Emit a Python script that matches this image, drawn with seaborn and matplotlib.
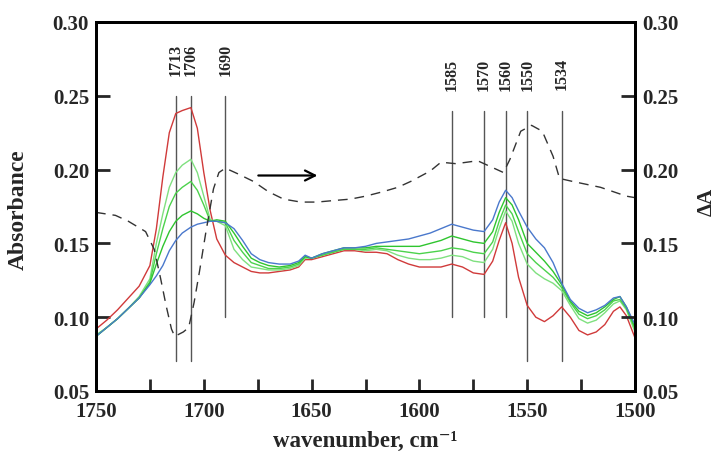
import matplotlib
matplotlib.use("Agg")
import matplotlib.pyplot as plt
import seaborn as sns
import pandas as pd

wavenumber = [1750, 1745, 1740, 1735, 1730, 1725, 1722, 1719, 1716, 1713, 1710, 1706,
              1703, 1700, 1697, 1694, 1690, 1686, 1682, 1678, 1674, 1670, 1665, 1660,
              1656, 1653, 1650, 1645, 1640, 1635, 1630, 1625, 1620, 1615, 1610, 1605,
              1600, 1595, 1590, 1585, 1580, 1575, 1570, 1566, 1563, 1560, 1557, 1554,
              1550, 1546, 1542, 1538, 1534, 1530, 1526, 1522, 1518, 1514, 1510, 1507,
              1504, 1500]

red = [0.092, 0.098, 0.105, 0.113, 0.121, 0.135, 0.160, 0.195, 0.225, 0.238, 0.240, 0.242,
       0.228, 0.198, 0.172, 0.153, 0.142, 0.137, 0.134, 0.131, 0.130, 0.130, 0.131, 0.132,
       0.134, 0.139, 0.139, 0.141, 0.143, 0.145, 0.145, 0.144, 0.144, 0.143, 0.139, 0.136,
       0.134, 0.134, 0.134, 0.136, 0.134, 0.130, 0.129, 0.138, 0.152, 0.164, 0.150, 0.127,
       0.108, 0.100, 0.097, 0.101, 0.107, 0.100, 0.091, 0.088, 0.090, 0.095, 0.104, 0.107,
       0.101, 0.086]

green1 = [0.088, 0.093, 0.099, 0.106, 0.114, 0.126, 0.150, 0.170, 0.188, 0.198, 0.203, 0.207,
          0.198, 0.182, 0.166, 0.165, 0.162, 0.146, 0.139, 0.134, 0.133, 0.132, 0.132, 0.133,
          0.135, 0.140, 0.140, 0.142, 0.144, 0.146, 0.146, 0.145, 0.146, 0.145, 0.142, 0.140,
          0.139, 0.139, 0.140, 0.142, 0.141, 0.138, 0.137, 0.146, 0.160, 0.172, 0.165, 0.150,
          0.136, 0.130, 0.126, 0.123, 0.118, 0.108, 0.099, 0.096, 0.098, 0.103, 0.109, 0.111,
          0.105, 0.090]

green2 = [0.087, 0.093, 0.099, 0.106, 0.113, 0.124, 0.143, 0.160, 0.175, 0.184, 0.188, 0.192,
          0.186, 0.176, 0.165, 0.165, 0.164, 0.152, 0.144, 0.137, 0.135, 0.133, 0.133, 0.134,
          0.136, 0.141, 0.140, 0.142, 0.144, 0.146, 0.146, 0.146, 0.147, 0.146, 0.145, 0.144,
          0.143, 0.144, 0.145, 0.147, 0.146, 0.144, 0.143, 0.151, 0.165, 0.176, 0.170, 0.158,
          0.143, 0.137, 0.132, 0.127, 0.120, 0.110, 0.102, 0.099, 0.101, 0.105, 0.111, 0.112,
          0.106, 0.092]

green3 = [0.087, 0.093, 0.099, 0.106, 0.113, 0.123, 0.136, 0.148, 0.158, 0.165, 0.169, 0.172,
          0.170, 0.167, 0.165, 0.166, 0.165, 0.157, 0.148, 0.140, 0.137, 0.135, 0.134, 0.135,
          0.137, 0.141, 0.140, 0.143, 0.145, 0.147, 0.147, 0.147, 0.148, 0.148, 0.148, 0.148,
          0.148, 0.150, 0.152, 0.155, 0.153, 0.151, 0.150, 0.158, 0.171, 0.181, 0.176, 0.166,
          0.150, 0.144, 0.138, 0.131, 0.122, 0.111, 0.104, 0.101, 0.103, 0.107, 0.112, 0.114,
          0.107, 0.093]

blue = [0.087, 0.093, 0.099, 0.106, 0.113, 0.122, 0.128, 0.135, 0.145, 0.152, 0.157, 0.161,
        0.163, 0.164, 0.165, 0.165, 0.164, 0.160, 0.152, 0.143, 0.139, 0.137, 0.136, 0.136,
        0.138, 0.142, 0.140, 0.143, 0.145, 0.147, 0.147, 0.148, 0.150, 0.151, 0.152, 0.153,
        0.155, 0.157, 0.160, 0.163, 0.161, 0.159, 0.158, 0.166, 0.178, 0.186, 0.181, 0.172,
        0.161, 0.153, 0.147, 0.137, 0.123, 0.112, 0.106, 0.103, 0.105, 0.108, 0.113, 0.114,
        0.107, 0.095]

diff_x = [1750, 1741, 1735, 1727, 1723, 1720, 1717.5, 1715, 1713.5, 1709.5, 1707, 1704.5,
          1702, 1699, 1695.5, 1693, 1690, 1684, 1677, 1670, 1663, 1655, 1647.5, 1640,
          1632, 1625, 1617, 1610, 1604, 1595, 1590, 1583, 1573, 1567, 1561, 1558, 1553,
          1548, 1543, 1538, 1535, 1529, 1516, 1504, 1500]
diff_y = [0.171, 0.169, 0.165, 0.158, 0.146, 0.126, 0.108, 0.092, 0.087, 0.090, 0.093, 0.110,
          0.131, 0.158, 0.187, 0.198, 0.201, 0.197, 0.192, 0.185, 0.180, 0.178, 0.178, 0.179,
          0.180, 0.182, 0.185, 0.188, 0.192, 0.199, 0.205, 0.204, 0.206, 0.202, 0.198, 0.207,
          0.226, 0.230, 0.226, 0.209, 0.194, 0.192, 0.188, 0.182, 0.181]

marker_pos = [1713, 1706, 1690, 1585, 1570, 1560, 1550, 1534]
marker_lo = [0.070, 0.070, 0.100, 0.100, 0.100, 0.100, 0.070, 0.070]
marker_hi = [0.250, 0.250, 0.250, 0.240, 0.240, 0.240, 0.240, 0.240]
marker_text_top = [0.286, 0.286, 0.286, 0.276, 0.276, 0.276, 0.276, 0.276]

series_names = ["s1", "s2", "s3", "s4", "s5"]
series_colors = ["#d03a3a", "#7fe07f", "#4cd24c", "#2fc52f", "#4a78cc"]

x_ticks = [1750, 1700, 1650, 1600, 1550, 1500]
y_ticks = [0.05, 0.10, 0.15, 0.20, 0.25, 0.30]

sns.set_theme(style="ticks")
plt.rcParams["font.family"] = ["Liberation Serif", "DejaVu Serif"]
plt.rcParams["font.weight"] = "bold"

frames = []
for name, vals in zip(series_names, [red, green1, green2, green3, blue]):
    frames.append(pd.DataFrame({"wavenumber": wavenumber, "A": vals, "series": name}))
df = pd.concat(frames, ignore_index=True)
ddf = pd.DataFrame({"wavenumber": diff_x, "dA": diff_y})

fig = plt.figure(figsize=(7.17, 4.60), dpi=100)
ax = fig.add_axes([96 / 717, 68 / 460, 539 / 717, 369 / 460])

for xv, lo, hi in zip(marker_pos, marker_lo, marker_hi):
    ax.plot([xv, xv], [lo, hi], color="#555555", lw=1.0, zorder=1)

sns.lineplot(data=df, x="wavenumber", y="A", hue="series", palette=series_colors,
             hue_order=series_names, ax=ax, lw=1.0, legend=False, estimator=None,
             sort=False, zorder=2)

ax2 = ax.twinx()
sns.lineplot(data=ddf, x="wavenumber", y="dA", ax=ax2, color="#333333", lw=1.0,
             estimator=None, sort=False, legend=False)
ax2.lines[0].set_dashes([7, 5])

for a in (ax, ax2):
    a.set_xlim(1750, 1500)
    a.set_ylim(0.05, 0.30)
    for s in a.spines.values():
        s.set_linewidth(2.0)
        s.set_color("black")

ax.set_xticks(x_ticks)
ax.set_xticks([1725, 1675, 1625, 1575, 1525], minor=True)
ax.set_yticks(y_ticks)
ax.set_yticklabels([f"{v:.2f}" for v in y_ticks])
ax2.set_yticks(y_ticks)
ax2.set_yticklabels([f"{v:.2f}" for v in y_ticks])

ax.tick_params(axis="x", which="both", direction="in", length=9, width=2, labelsize=15,
               pad=7, top=False)
ax.tick_params(axis="y", direction="in", length=10, width=2, labelsize=15, pad=5)
ax2.tick_params(axis="y", direction="in", length=10, width=2, labelsize=15, pad=5)
for lab in ax.get_xticklabels() + ax.get_yticklabels() + ax2.get_yticklabels():
    lab.set_fontweight("bold")

ax.set_xlabel("wavenumber, cm⁻¹", fontsize=16.5, fontweight="bold", labelpad=7)
ax.set_ylabel("")
ax2.set_ylabel("")
fig.text(18 / 717, 1 - 210 / 460, "Absorbance", rotation=90, ha="center", va="center",
         fontsize=17, fontweight="bold")
fig.text(707 / 717, 1 - 202 / 460, "ΔA", rotation=90, ha="center", va="center",
         fontsize=15, fontweight="bold")

for xv, top in zip(marker_pos, marker_text_top):
    ax.text(xv, top, str(xv), rotation=90, ha="center", va="top", fontsize=11.5,
            fontweight="bold")

ax.annotate("", xy=(1646, 0.196), xytext=(1676, 0.196),
            arrowprops=dict(arrowstyle="->", color="black", lw=1.6, mutation_scale=18))

fig.savefig("out.png", dpi=100)
